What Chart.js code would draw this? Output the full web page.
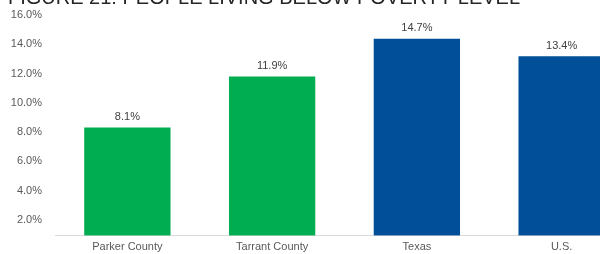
<!DOCTYPE html>
<html>
<head>
<meta charset="utf-8">
<script src="https://cdn.jsdelivr.net/npm/chart.js@4"></script>
<style>
    html, body { margin: 0; padding: 0; background: #fff; overflow: hidden; }
    #wrap { position: absolute; left: 0; top: -14px; width: 650px; height: 277px; }
</style>
</head>
<body>
<div id="wrap"><canvas id="povertyChart" width="650" height="277"></canvas></div>
<script>
const titleText = 'FIGURE 21: PEOPLE LIVING BELOW POVERTY LEVEL';
const categories = ['Parker County', 'Tarrant County', 'Texas', 'U.S.'];
const povertyRates = [8.1, 11.9, 14.7, 13.4];
const barColors = ['#00ad50', '#00ad50', '#004f98', '#004f98'];
const tickValues = [2, 4, 6, 8, 10, 12, 14, 16];

// Draw the % labels above each bar
const valueLabels = {
    id: 'valueLabels',
    afterDatasetsDraw(chart) {
        const ctx = chart.ctx;
        const meta = chart.getDatasetMeta(0);
        ctx.save();
        ctx.font = '11px "Liberation Sans", Arial, sans-serif';
        ctx.fillStyle = '#404040';
        ctx.textAlign = 'center';
        ctx.textBaseline = 'bottom';
        meta.data.forEach((bar, i) => {
            ctx.fillText(povertyRates[i].toFixed(1) + '%', bar.x, bar.y - 4);
        });
        ctx.restore();
    }
};

new Chart(document.getElementById('povertyChart'), {
    type: 'bar',
    data: {
        labels: categories,
        datasets: [{
            data: povertyRates,
            backgroundColor: barColors,
            borderColor: 'rgba(255,255,255,0.35)',
            borderWidth: 1,
            categoryPercentage: 1,
            barPercentage: 0.61,
            yAxisID: 'y'
        }]
    },
    options: {
        responsive: false,
        devicePixelRatio: 1,
        animation: false,
        layout: { padding: { top: 0, right: 16, bottom: 4, left: 8 } },
        plugins: {
            legend: { display: false },
            tooltip: { enabled: false },
            title: {
                display: true,
                text: titleText,
                align: 'start',
                color: '#262626',
                font: { family: '"Liberation Sans", Arial, sans-serif', size: 20, weight: 'normal' },
                padding: { top: 0, bottom: 0 }
            }
        },
        scales: {
            x: {
                grid: { display: false, drawTicks: false },
                border: { color: '#d9d9d9' },
                ticks: {
                    color: '#595959',
                    font: { family: '"Liberation Sans", Arial, sans-serif', size: 11 },
                    padding: 5
                }
            },
            y: {
                display: false,
                min: 0,
                max: 16.75
            },
            yTicks: {
                position: 'left',
                min: 0.91,
                max: 16.35,
                grid: { display: false, drawTicks: false },
                border: { display: false },
                afterBuildTicks: (scale) => {
                    scale.ticks = tickValues.map(v => ({ value: v }));
                },
                afterFit: (scale) => { scale.width = 47; },
                ticks: {
                    color: '#595959',
                    padding: 13,
                    font: { family: '"Liberation Sans", Arial, sans-serif', size: 11 },
                    callback: (v) => v.toFixed(1) + '%'
                }
            }
        }
    },
    plugins: [valueLabels]
});
</script>
</body>
</html>
